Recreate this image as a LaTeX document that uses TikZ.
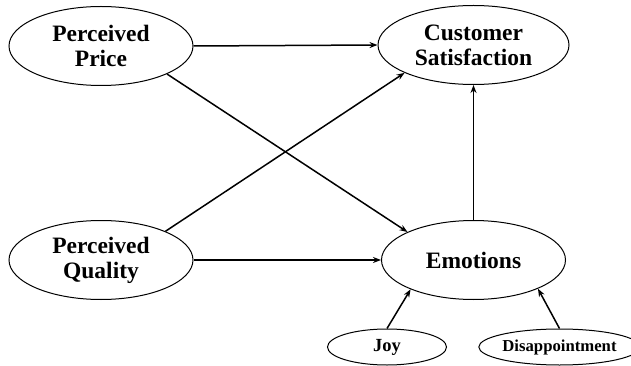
\documentclass[tikz,border=0pt]{standalone}
\usepackage{fontspec}
\setmainfont{Liberation Serif}
\usetikzlibrary{shapes.geometric,arrows.meta}
\begin{document}
\begin{tikzpicture}[x=1pt,y=-1pt,
  bigell/.style={draw,line width=1pt,ellipse,inner sep=0pt,minimum width=184pt,minimum height=79pt,align=center,font=\fontsize{23.5}{25}\selectfont\bfseries},
  smallell/.style={draw,line width=1pt,ellipse,inner sep=0pt,minimum height=36pt,font=\fontsize{16.7}{18}\selectfont\bfseries},
  conn/.style={line width=1.5pt,-{Stealth[length=8pt,width=6pt]}}]
\useasboundingbox (0,0) rectangle (631,366);
\node[bigell] (P) at (101,46) {Perceived\\Price};
\node[bigell,minimum width=191pt] (CS) at (473.5,45) {Customer\\Satisfaction};
\node[bigell] (Q) at (101,260) {Perceived\\Quality};
\node[bigell] (E) at (473.5,260) {Emotions};
\node[smallell,minimum width=119pt,font=\fontsize{18.5}{20}\selectfont\bfseries] (J) at (387,347) {Joy};
\node[smallell,minimum width=142pt] (D) at (559.5,347) {Disappointment};
\draw[conn] (P.east) -- (CS.west);
\draw[conn] (P.-23) -- (E.157);
\draw[conn] (Q.24) -- (CS.-158);
\draw[conn] (Q.east) -- (E.west);
\draw[conn] (E.north) -- (CS.south);
\draw[conn] (J.north) -- (E.-155);
\draw[conn] (D.north) -- (E.-24);
\end{tikzpicture}
\end{document}
